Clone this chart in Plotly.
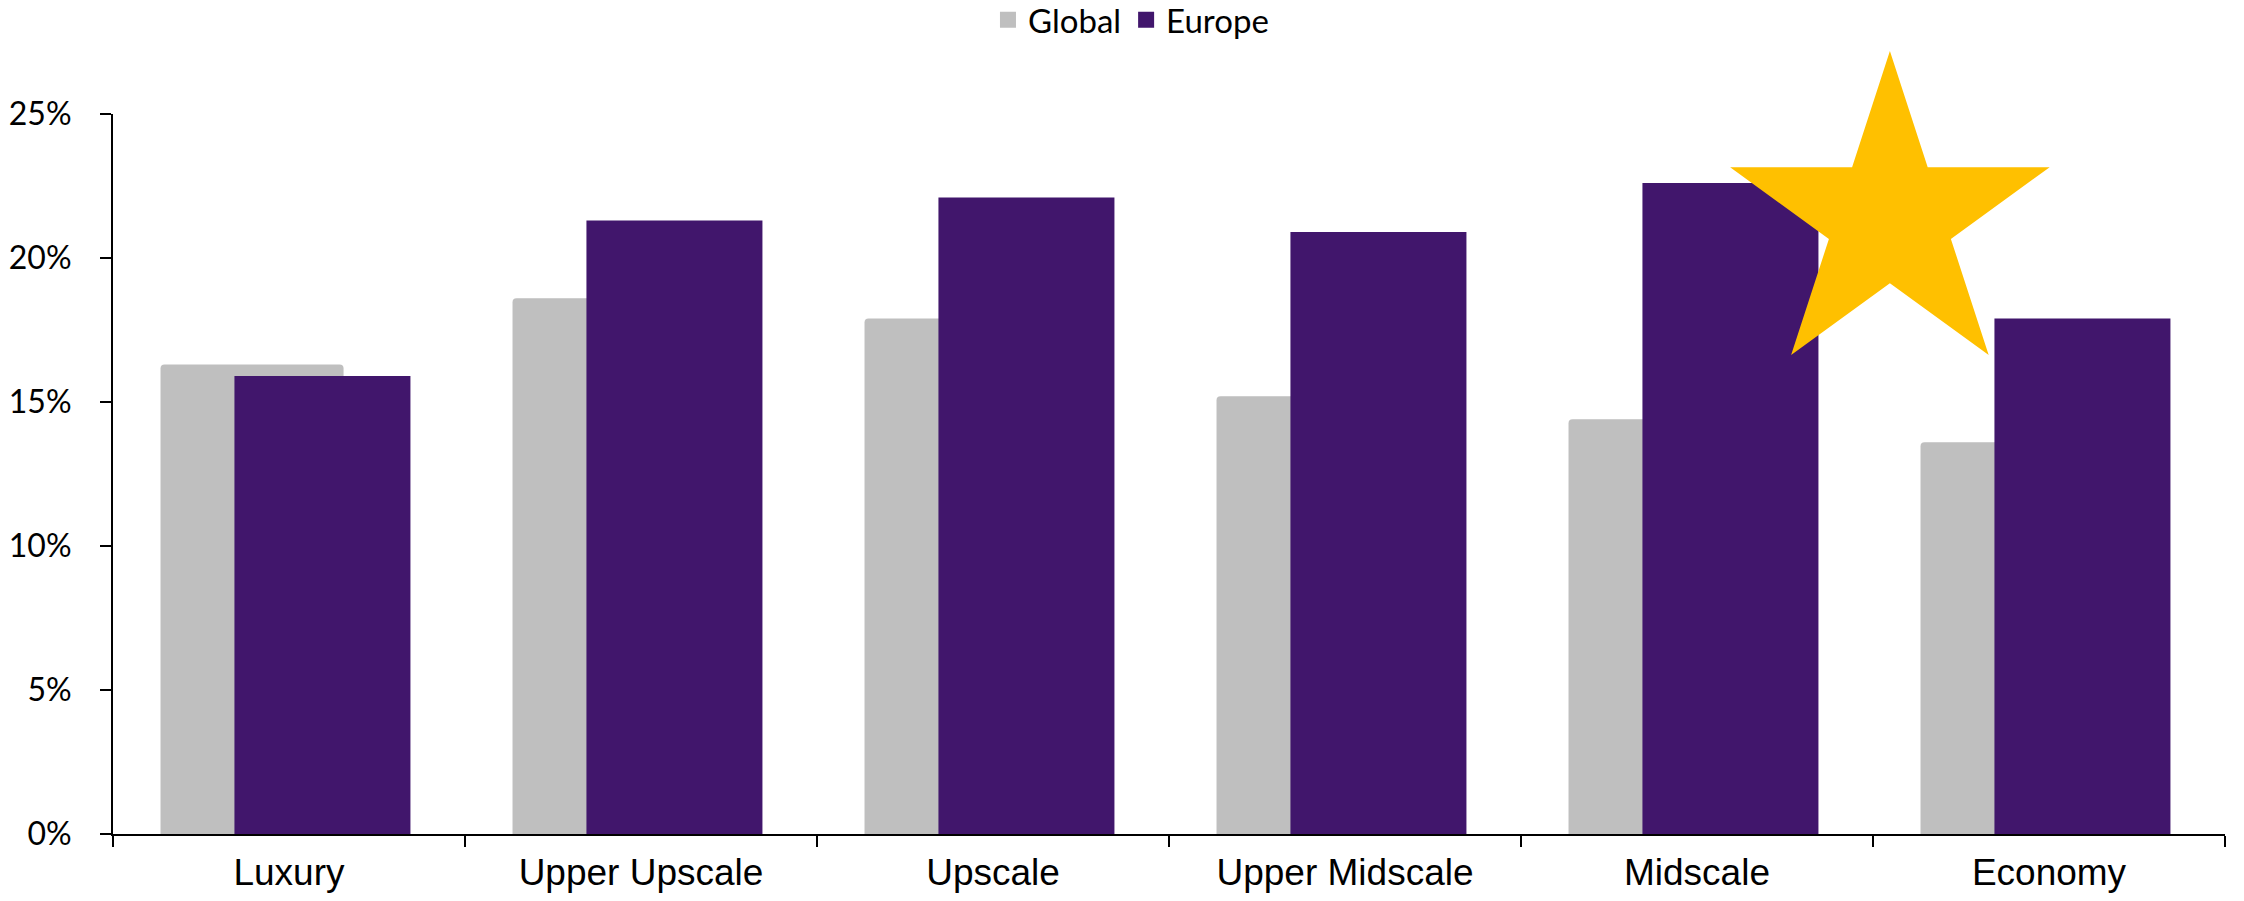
import plotly.graph_objects as go

categories = ["Luxury", "Upper Upscale", "Upscale", "Upper Midscale", "Midscale", "Economy"]
global_vals = [16.3, 18.6, 17.9, 15.2, 14.4, 13.6]
europe_vals = [15.9, 21.3, 22.1, 20.9, 22.6, 17.9]
y_tickvals = [0, 5, 10, 15, 20, 25]
y_ticktext = ["0%", "5%", "10%", "15%", "20%", "25%"]
series_names = ["Global", "Europe"]

# decorative star highlight (category-index coordinates)
STAR_X = [4.548]
STAR_Y = [21.35]

GRAY = "#BFBFBF"
PURPLE = "#41166C"
GOLD = "#FFC000"

fig = go.Figure()
fig.add_trace(go.Bar(
    x=categories, y=global_vals, name=series_names[0], legendgroup="g",
    marker=dict(color=GRAY, line=dict(width=0), cornerradius=4),
    width=0.52, offset=-0.365, showlegend=False,
))
fig.add_trace(go.Bar(
    x=categories, y=europe_vals, name=series_names[1], legendgroup="e",
    marker=dict(color=PURPLE, line=dict(width=0)),
    width=0.50, offset=-0.155, showlegend=False,
))
# legend entries with larger square swatches
for nm, col, grp, sz in [(series_names[0], GRAY, "g", 28), (series_names[1], PURPLE, "e", 22)]:
    fig.add_trace(go.Scatter(
        x=[None], y=[None], mode="markers", name=nm, legendgroup=grp,
        marker=dict(symbol="square", size=sz, color=col, line=dict(width=0)),
        showlegend=True, hoverinfo="skip",
    ))
fig.add_trace(go.Scatter(
    x=STAR_X, y=STAR_Y, xaxis="x2", mode="markers",
    marker=dict(symbol="star", size=240, color=GOLD, line=dict(width=0)),
    showlegend=False, cliponaxis=False, hoverinfo="skip",
))

fig.update_layout(
    width=2244, height=901,
    margin=dict(l=113, r=19, t=114, b=67, autoexpand=False),
    paper_bgcolor="white", plot_bgcolor="white",
    barmode="overlay",
    showlegend=True,
    legend=dict(
        orientation="h", xref="container", yref="container",
        x=0.504, xanchor="center", y=0.978, yanchor="middle",
        font=dict(family="Lato", size=33, color="black"),
        itemwidth=30, tracegroupgap=0, itemsizing="trace",
    ),
    xaxis=dict(
        type="category", categoryorder="array", categoryarray=categories,
        range=[-0.5, 5.5], automargin=False,
        showline=True, linecolor="black", linewidth=2,
        ticks="outside", ticklen=11, tickwidth=2, tickcolor="black",
        tickson="boundaries",
        showgrid=False, zeroline=False,
        tickfont=dict(family="Liberation Sans", size=37, color="black"),
        ticklabelstandoff=5,
    ),
    xaxis2=dict(
        overlaying="x", range=[-0.5, 5.5], visible=False,
    ),
    yaxis=dict(
        range=[0, 25], tickvals=y_tickvals, ticktext=y_ticktext,
        automargin=False,
        showline=True, linecolor="black", linewidth=2,
        ticks="outside", ticklen=11, tickwidth=2, tickcolor="black",
        showgrid=False, zeroline=False,
        tickfont=dict(family="Lato", size=32, color="black"),
        ticklabelstandoff=22,
    ),
)

fig.write_html("out.html")
